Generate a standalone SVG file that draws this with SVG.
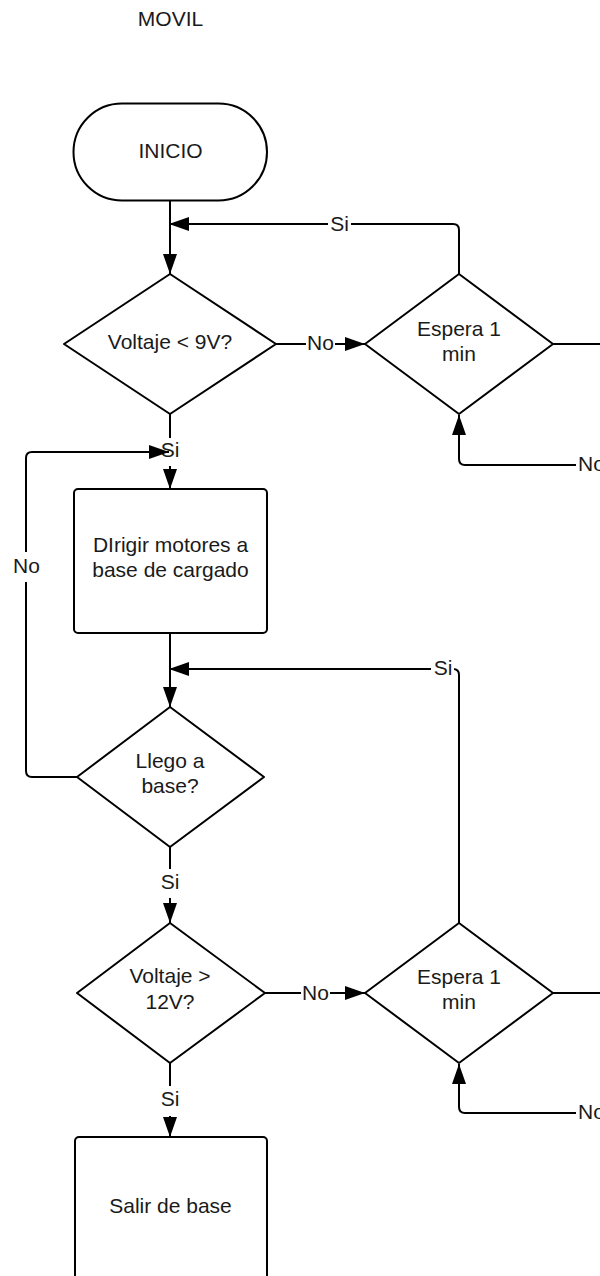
<svg xmlns="http://www.w3.org/2000/svg" width="600" height="1276" viewBox="0 0 600 1276">
<defs>
<marker id="arr" markerUnits="userSpaceOnUse" markerWidth="21" markerHeight="14" refX="20" refY="7" orient="auto">
<path d="M0,0 L20,7 L0,14 z" fill="#000"/>
</marker>
<style>
.shape{fill:#fff;stroke:#000;stroke-width:2;stroke-linejoin:round}
.conn{fill:none;stroke:#000;stroke-width:2;stroke-linejoin:round}
.arrow{marker-end:url(#arr)}
text{font-family:"Liberation Sans",Arial,sans-serif;font-size:21px;fill:#1a1a1a;text-anchor:middle}
.bg{fill:#fff;stroke:none}
</style>
</defs>
<rect width="600" height="1276" fill="#fff"/>
<text x="170.5" y="25.5">MOVIL</text>

<g id="connectors">
<path class="conn arrow" d="M170 201 V274"/>
<path class="conn arrow" d="M459 274 V230 Q459 224 453 224 H169"/>
<path class="conn arrow" d="M276 344 H365"/>
<path class="conn" d="M553 344 H610"/>
<path class="conn arrow" d="M610 465 H465 Q459 465 459 459 V415"/>
<path class="conn arrow" d="M170 414 V489"/>
<path class="conn arrow" d="M170 633 V707"/>
<path class="conn arrow" d="M459 923 V675 Q459 669 453 669 H169"/>
<path class="conn arrow" d="M170 847 V923"/>
<path class="conn arrow" d="M265 993 H365"/>
<path class="conn" d="M553 993 H610"/>
<path class="conn arrow" d="M610 1113 H465 Q459 1113 459 1107 V1064"/>
<path class="conn arrow" d="M170 1063 V1137"/>
<g id="labels">
<rect class="bg" x="328" y="212" width="23" height="24"/><text x="339.5" y="231">Si</text>
<rect class="bg" x="306" y="332" width="29" height="24"/><text x="320.5" y="349.5">No</text>
<rect class="bg" x="576" y="453" width="30" height="24"/><text x="578" y="470.5" style="text-anchor:start">No</text>
<rect class="bg" x="159" y="438" width="23" height="28"/><text x="170" y="457">Si</text>
<rect class="bg" x="12" y="552" width="30" height="30"/><text x="26.5" y="573">No</text>
<rect class="bg" x="431" y="657" width="23" height="24"/><text x="443" y="675">Si</text>
<rect class="bg" x="159" y="869" width="23" height="29"/><text x="170" y="889">Si</text>
<rect class="bg" x="301" y="981" width="29" height="24"/><text x="315.5" y="999.5">No</text>
<rect class="bg" x="576" y="1101" width="30" height="24"/><text x="578" y="1118.5" style="text-anchor:start">No</text>
<rect class="bg" x="159" y="1086" width="23" height="30"/><text x="170" y="1106">Si</text>
</g>
<path class="conn arrow" d="M77 777 H32 Q26 777 26 771 V582 M26 552 V458 Q26 452 32 452 H169"/>
</g>

<g id="inicio">
<rect class="shape" x="73.5" y="103.5" width="193.5" height="97" rx="48.5"/>
<text x="170.5" y="158">INICIO</text>
</g>
<g id="voltaje9">
<polygon class="shape" points="170,274 276,344 170,414 64,344"/>
<text x="170" y="348.5">Voltaje &lt; 9V?</text>
</g>
<g id="espera1">
<polygon class="shape" points="459,274 553,344 459,414 365,344"/>
<text x="459" y="335.5">Espera 1</text>
<text x="459" y="360.5">min</text>
</g>
<g id="dirigir">
<rect class="shape" x="74" y="489" width="193" height="144" rx="4"/>
<text x="170.5" y="552">DIrigir motores a</text>
<text x="170.5" y="577">base de cargado</text>
</g>
<g id="llego">
<polygon class="shape" points="170,707 264,777 170,847 77,777"/>
<text x="170" y="767.5">Llego a</text>
<text x="170" y="792.5">base?</text>
</g>
<g id="voltaje12">
<polygon class="shape" points="170,923 265,993 170,1063 77,993"/>
<text x="170" y="983">Voltaje &gt;</text>
<text x="170" y="1009">12V?</text>
</g>
<g id="espera2">
<polygon class="shape" points="459,923 553,993 459,1063 365,993"/>
<text x="459" y="984">Espera 1</text>
<text x="459" y="1009">min</text>
</g>
<g id="salir">
<rect class="shape" x="75" y="1137" width="192" height="200" rx="4"/>
<text x="170.5" y="1213">Salir de base</text>
</g>
</svg>
